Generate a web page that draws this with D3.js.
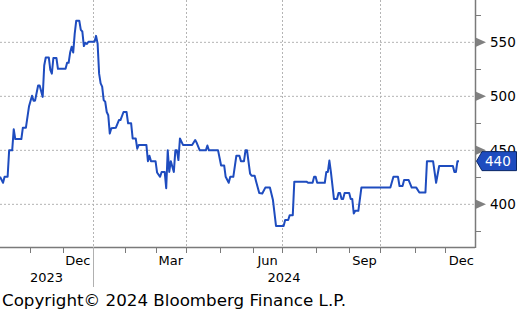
<!DOCTYPE html>
<html><head><meta charset="utf-8">
<script src="https://cdn.jsdelivr.net/npm/d3@7"></script>
<style>html,body{margin:0;padding:0;background:#fff;overflow:hidden}</style>
</head><body><svg id="c" width="518" height="314"></svg>
<script>
// ---- data ----
const dates = [
"2023-10-04","2023-10-06","2023-10-09","2023-10-11","2023-10-12","2023-10-16","2023-10-17","2023-10-18","2023-10-24","2023-10-25","2023-10-27","2023-10-31",
"2023-11-02","2023-11-03","2023-11-06","2023-11-08","2023-11-09","2023-11-13","2023-11-14","2023-11-15","2023-11-17","2023-11-20","2023-11-21","2023-11-22","2023-11-27","2023-11-28",
"2023-12-05","2023-12-06","2023-12-07","2023-12-08","2023-12-11","2023-12-12","2023-12-13","2023-12-14","2023-12-18","2023-12-19","2023-12-20","2023-12-21","2023-12-22","2023-12-26","2023-12-27",
"2024-01-03","2024-01-04","2024-01-05","2024-01-08","2024-01-09","2024-01-10","2024-01-11","2024-01-12","2024-01-16","2024-01-17","2024-01-18","2024-01-19","2024-01-24","2024-01-26","2024-01-29","2024-01-31",
"2024-02-02","2024-02-05","2024-02-07","2024-02-08","2024-02-12","2024-02-13","2024-02-14","2024-02-22","2024-02-23","2024-02-26","2024-02-27",
"2024-03-01","2024-03-04","2024-03-06","2024-03-07","2024-03-11","2024-03-12","2024-03-13","2024-03-14","2024-03-15","2024-03-19","2024-03-20","2024-03-21","2024-03-22","2024-03-25","2024-03-27",
"2024-04-05","2024-04-09","2024-04-10","2024-04-12","2024-04-18","2024-04-19","2024-04-22","2024-04-30",
"2024-05-02","2024-05-06","2024-05-07","2024-05-09","2024-05-10","2024-05-14","2024-05-16","2024-05-20","2024-05-21","2024-05-23","2024-05-24","2024-05-28","2024-05-30","2024-05-31",
"2024-06-04","2024-06-05","2024-06-07","2024-06-11","2024-06-13","2024-06-18","2024-06-21","2024-06-25",
"2024-07-02","2024-07-03","2024-07-08","2024-07-09","2024-07-11","2024-07-12","2024-07-24","2024-07-25","2024-07-30","2024-07-31",
"2024-08-01","2024-08-02","2024-08-09","2024-08-12","2024-08-13","2024-08-14","2024-08-15","2024-08-19","2024-08-21","2024-08-22","2024-08-23","2024-08-26","2024-08-27","2024-08-28",
"2024-09-03","2024-09-04","2024-09-05","2024-09-06","2024-09-09","2024-09-11","2024-09-13",
"2024-10-10","2024-10-14","2024-10-17","2024-10-18","2024-10-22","2024-10-23","2024-10-28","2024-10-30",
"2024-11-04","2024-11-06","2024-11-12","2024-11-13","2024-11-19","2024-11-21","2024-11-25",
"2024-12-09","2024-12-10","2024-12-11","2024-12-12","2024-12-13"];
const values = [
425.5,420,425.5,425.5,450,450,469.5,460.5,460.5,471,471,490.5,
500.5,496,496,510,510,499.5,528.5,536,536,524.5,521,535.5,535.5,525.5,
525.5,531,531,540.5,546,540.5,558,570,570,561.5,560,546.5,549.5,548.5,550.5,
550.5,556,549,521,512,509,496.5,495,485.5,482.5,465.5,470.5,471,478,478,485.5,
485.5,475,475,461,461,451.5,455,455,440,445,440,
440,429.5,425.5,430,430,415,450,430,440,430,450,450,441,461,455,
455,459.5,457,450,450,454.5,450,450,
436,436,425.5,420,425.5,425.5,445,445,440,440,450,450,428.5,426.5,
426.5,421,410.5,410,415.5,415.5,404,380,
380,385.5,385.5,390,390,421,421,420,420,425.5,
425.5,420,420,430,430,440.5,430,405,405,410.5,410.5,405,405,410.5,
410.5,405,405,391.5,394,394,415.5,
415.5,425.5,425.5,417,417,422.5,422.5,415.5,
415.5,411,411,440,440,420,435.5,
435.5,430,430,440,440];
// market holidays (trading-day axis)
const holidays = ["2023-11-23","2023-12-25","2024-01-01","2024-01-15","2024-02-19","2024-03-29",
  "2024-05-27","2024-06-19","2024-07-04","2024-09-02","2024-11-28","2024-12-25","2025-01-01"];
const yMajorTicks = [400,450,500,550];
const yMinorTicks = [375,425,475,525,575];
const monthLabelKeys = ["2023-12","2024-03","2024-06","2024-09","2024-12"];
const monthLabels = ["Dec","Mar","Jun","Sep","Dec"];
const gridMonthKeys = ["2024-01","2024-04","2024-07","2024-10"];
const yearLabels = ["2023","2024"];
const axisEndDate = "2024-12-30";
const copyrightText = "Copyright\u00A9 2024 Bloomberg Finance L.P.";

// ---- layout ----
const W = 518, H = 314;
const plotL = 0, plotR = 475, plotT = 0, plotB = 247;
const lineColor = "#1e4cbf";
const gridColor = "#b4b4b4";
const axisColor = "#7a7a7a";
const font = "'DejaVu Sans', Verdana, sans-serif";

const parse = d3.utcParse("%Y-%m-%d");
const holidaySet = new Set(holidays);
const fmtKey = d3.utcFormat("%Y-%m-%d");
const tradingDays = d3.utcDay.range(parse("2023-10-02"), parse("2025-02-01"))
  .filter(d => d.getUTCDay() >= 1 && d.getUTCDay() <= 5 && !holidaySet.has(fmtKey(d)));
const tdTimes = tradingDays.map(d => +d);
const idx = d => d3.bisectLeft(tdTimes, +d);

const data = dates.map((s, i) => ({ t: idx(parse(s)), v: values[i] }));

const x = d3.scaleLinear()
  .domain([idx(parse(dates[0])), idx(parse(axisEndDate)) + 0.5])
  .range([plotL, plotR]);
const y = d3.scaleLinear().domain([360.5, 589.2]).range([plotB, plotT]);

const svg = d3.select("#c");
svg.append("rect").attr("width", W).attr("height", H).attr("fill", "#fff");

// month starts (first trading day)
const monthStarts = d3.utcMonth.range(parse("2023-11-01"), parse("2025-02-01"));
const monthX = new Map(monthStarts.map(m => [d3.utcFormat("%Y-%m")(m), x(idx(m))]));
const nextKey = k => d3.utcFormat("%Y-%m")(d3.utcMonth.offset(d3.utcParse("%Y-%m")(k), 1));

// gridlines
const g = svg.append("g");
g.selectAll(".hg").data(yMajorTicks).join("line")
  .attr("x1", plotL).attr("x2", plotR)
  .attr("y1", d => y(d)).attr("y2", d => y(d))
  .attr("stroke", gridColor).attr("stroke-width", 1).attr("stroke-dasharray", "2,2");
g.selectAll(".vg").data(gridMonthKeys).join("line")
  .attr("x1", d => Math.round(monthX.get(d)) + 0.5).attr("x2", d => Math.round(monthX.get(d)) + 0.5)
  .attr("y1", plotT).attr("y2", plotB)
  .attr("stroke", gridColor).attr("stroke-width", 1).attr("stroke-dasharray", "2,2");

// line
const line = d3.line().x(d => x(d.t)).y(d => y(d.v));
svg.append("path").datum(data).attr("d", line)
  .attr("fill", "none").attr("stroke", lineColor).attr("stroke-width", 2)
  .attr("stroke-linejoin", "round");

// bottom axis
svg.append("line").attr("x1", plotL).attr("x2", plotR).attr("y1", plotB + 0.5).attr("y2", plotB + 0.5)
  .attr("stroke", axisColor).attr("stroke-width", 1.5);
const tickMonths = monthStarts.filter(m => m < parse("2025-01-01"));
svg.selectAll(".xt").data(tickMonths).join("line")
  .attr("x1", d => Math.round(x(idx(d))) + 0.5).attr("x2", d => Math.round(x(idx(d))) + 0.5)
  .attr("y1", plotB).attr("y2", plotB + 6)
  .attr("stroke", axisColor).attr("stroke-width", 1);
svg.selectAll(".xl").data(monthLabelKeys).join("text")
  .attr("x", (d) => (monthX.get(d) + monthX.get(nextKey(d))) / 2)
  .attr("y", 265)
  .attr("text-anchor", "middle").attr("font-family", font).attr("font-size", 13).attr("fill", "#000")
  .text((d, i) => monthLabels[i]);
const yearSep = monthX.get("2024-01");
const yearBounds = [[plotL, yearSep], [yearSep, plotR]];
svg.selectAll(".yl").data(yearLabels).join("text")
  .attr("x", (d, i) => (yearBounds[i][0] + yearBounds[i][1]) / 2)
  .attr("y", 282)
  .attr("text-anchor", "middle").attr("font-family", font).attr("font-size", 13).attr("fill", "#000")
  .text(d => d);
svg.append("line").attr("x1", Math.round(yearSep) + 0.5).attr("x2", Math.round(yearSep) + 0.5)
  .attr("y1", plotB).attr("y2", 287).attr("stroke", "#b0b0b0").attr("stroke-width", 1);

// right axis
svg.append("line").attr("x1", plotR + 0.5).attr("x2", plotR + 0.5).attr("y1", plotT).attr("y2", plotB + 1)
  .attr("stroke", axisColor).attr("stroke-width", 1.5);
svg.selectAll(".ymt").data(yMinorTicks).join("line")
  .attr("x1", plotR).attr("x2", plotR + 6)
  .attr("y1", d => Math.round(y(d)) + 0.5).attr("y2", d => Math.round(y(d)) + 0.5)
  .attr("stroke", axisColor).attr("stroke-width", 1);
svg.selectAll(".yarrow").data(yMajorTicks).join("path")
  .attr("d", d => `M${plotR + 1},${y(d) - 4.5}L${plotR + 11},${y(d)}L${plotR + 1},${y(d) + 4.5}Z`)
  .attr("fill", "#808080");
svg.selectAll(".ylab").data(yMajorTicks).join("text")
  .attr("x", 490).attr("y", d => y(d) + 5)
  .attr("font-family", font).attr("font-size", 13.5).attr("fill", "#000")
  .text(d => d);

// last value tag
const last = data[data.length - 1];
const ly = y(last.v);
svg.append("path")
  .attr("d", `M${plotR + 1.5},${ly}L${plotR + 7},${ly - 9.5}L${W - 1.5},${ly - 9.5}L${W - 1.5},${ly + 9.5}L${plotR + 7},${ly + 9.5}Z`)
  .attr("fill", lineColor).attr("stroke", "#0b2766").attr("stroke-width", 1);
svg.append("text").attr("x", 485).attr("y", ly + 5)
  .attr("font-family", font).attr("font-size", 13.5).attr("fill", "#fff")
  .text(d3.format(".0f")(last.v));

// copyright
svg.append("text").attr("x", 2).attr("y", 305.5)
  .attr("font-family", font).attr("font-size", 16).attr("fill", "#000")
  .attr("textLength", 344).attr("lengthAdjust", "spacingAndGlyphs")
  .text(copyrightText);
</script></body></html>
